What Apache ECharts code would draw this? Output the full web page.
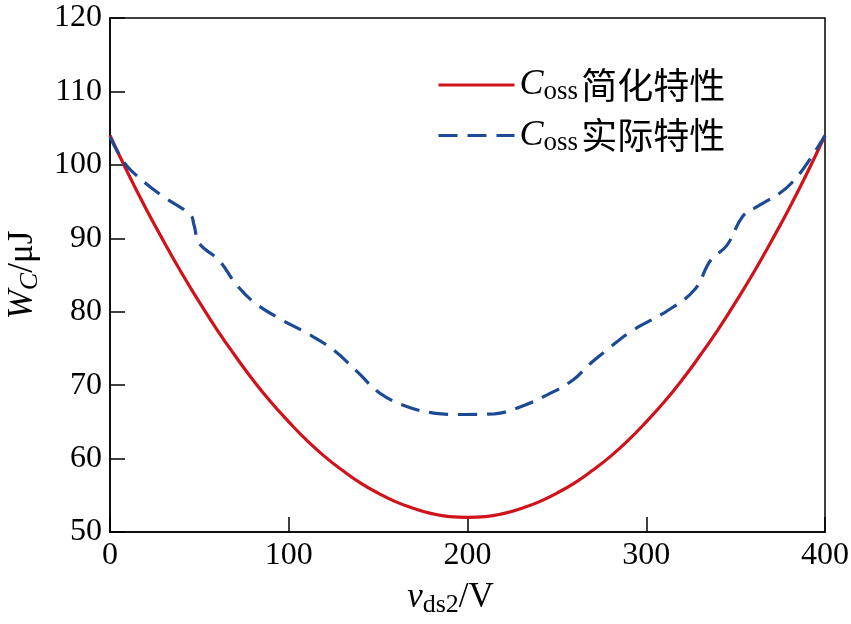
<!DOCTYPE html>
<html>
<head>
<meta charset="utf-8">
<script src="https://cdn.jsdelivr.net/npm/echarts@6/dist/echarts.min.js"></script>
<style>
html,body{margin:0;padding:0;background:#fff;}
#chart{width:851px;height:624px;}
</style>
</head>
<body>
<div id="chart"></div>
<script>
// Simplified Coss characteristic
var redV = [0,10,20,30,40,50,60,70,80,90,100,110,120,130,140,150,160,170,180,190,200,
            210,220,230,240,250,260,270,280,290,300,310,320,330,340,350,360,370,380,390,400];
var redW = [104,98.9,94.1,89.6,85.3,81.3,77.5,74.0,70.7,67.7,65.0,62.5,60.3,58.4,56.7,55.3,54.1,53.2,52.5,52.1,52.0,
            52.1,52.5,53.2,54.1,55.3,56.7,58.4,60.3,62.5,65.0,67.7,70.7,74.0,77.5,81.3,85.3,89.6,94.1,98.9,104];
var blueV = [0,8,16,29,45,47,50,61,71,81,96,110,125,138,151,166,181,198,215,229,244,259,268,278,292,311,327,336,345,354,362,375,382,390,400];
var blueW = [103.8,100.3,98.3,95.8,93.2,91.8,89.3,87.0,83.6,81.2,78.9,77.1,74.8,71.9,68.9,67.1,66.2,66.0,66.1,67.0,68.6,70.7,72.8,74.8,77.4,80.0,83.0,87.0,89.0,93.0,94.3,96.2,97.7,100.2,104.0];
var seriesNames = ['简化特性', '实际特性'];
var xTicks = {min: 0, max: 400, interval: 100};
var yTicks = {min: 50, max: 120, interval: 10};

function pairs(xs, ys){ return xs.map(function(x,i){ return [x, ys[i]]; }); }

var serif = 'Liberation Serif';
var cjk = 'Noto Sans CJK SC';
var chart = echarts.init(document.getElementById('chart'));
chart.setOption({
  backgroundColor: '#fff',
  animation: false,
  grid: {left: 110, right: 26, top: 18, bottom: 92, outerBoundsMode: 'none', containLabel: false,
         show: true, borderColor: '#000', borderWidth: 1.5, backgroundColor: 'transparent'},
  legend: {
    orient: 'vertical', left: 432, top: 62, itemWidth: 76, itemHeight: 14, itemGap: 12,
    data: seriesNames,
    itemStyle: {opacity: 0},
    lineStyle: {width: 3},
    formatter: function(n){ return '{c|C}{s|oss} {z|' + n + '}'; },
    textStyle: {
      rich: {
        c: {fontFamily: serif, fontStyle: 'italic', fontSize: 36, color: '#000'},
        s: {fontFamily: serif, fontSize: 27, color: '#000', padding: [14,0,0,0]},
        z: {fontFamily: cjk, fontSize: 36, color: '#000'}
      }
    }
  },
  xAxis: {
    type: 'value', min: xTicks.min, max: xTicks.max, interval: xTicks.interval,
    name: '{v|v}{s|ds2}{t|/V}', nameLocation: 'middle', nameGap: 46,
    nameTextStyle: {padding: [0, 34, 0, 0], rich: {
      v: {fontFamily: serif, fontStyle: 'italic', fontSize: 35, color: '#000'},
      s: {fontFamily: serif, fontSize: 26, color: '#000', padding: [14,0,0,0]},
      t: {fontFamily: serif, fontSize: 35, color: '#000'}
    }},
    axisLine: {lineStyle: {color: '#000', width: 1.5}},
    axisTick: {inside: true, length: 15, lineStyle: {color: '#000', width: 1.5}},
    axisLabel: {fontFamily: serif, fontSize: 32, color: '#000', margin: 8},
    splitLine: {show: false}
  },
  yAxis: {
    type: 'value', min: yTicks.min, max: yTicks.max, interval: yTicks.interval,
    name: '{w|W}{s|C}{t|/μJ}', nameLocation: 'middle', nameGap: 66,
    nameTextStyle: {rich: {
      w: {fontFamily: serif, fontStyle: 'italic', fontSize: 35, color: '#000'},
      s: {fontFamily: serif, fontStyle: 'italic', fontSize: 26, color: '#000', padding: [14,0,0,0]},
      t: {fontFamily: serif, fontSize: 35, color: '#000'}
    }},
    axisLine: {lineStyle: {color: '#000', width: 1.5}},
    axisTick: {inside: true, length: 15, lineStyle: {color: '#000', width: 1.5}},
    axisLabel: {fontFamily: serif, fontSize: 32, color: '#000', margin: 8},
    splitLine: {show: false}
  },
  series: [
    {name: seriesNames[0], type: 'line', data: pairs(redV, redW), smooth: true, symbol: 'none', showSymbol: false,
     lineStyle: {color: '#d0121b', width: 3.2}, itemStyle: {color: '#d0121b'}},
    {name: seriesNames[1], type: 'line', data: pairs(blueV, blueW), smooth: 0.4, symbol: 'none', showSymbol: false,
     lineStyle: {color: '#1c4a94', width: 3.2, type: [19, 10], cap: 'butt'}, itemStyle: {color: '#1c4a94'}}
  ]
});
</script>
</body>
</html>
